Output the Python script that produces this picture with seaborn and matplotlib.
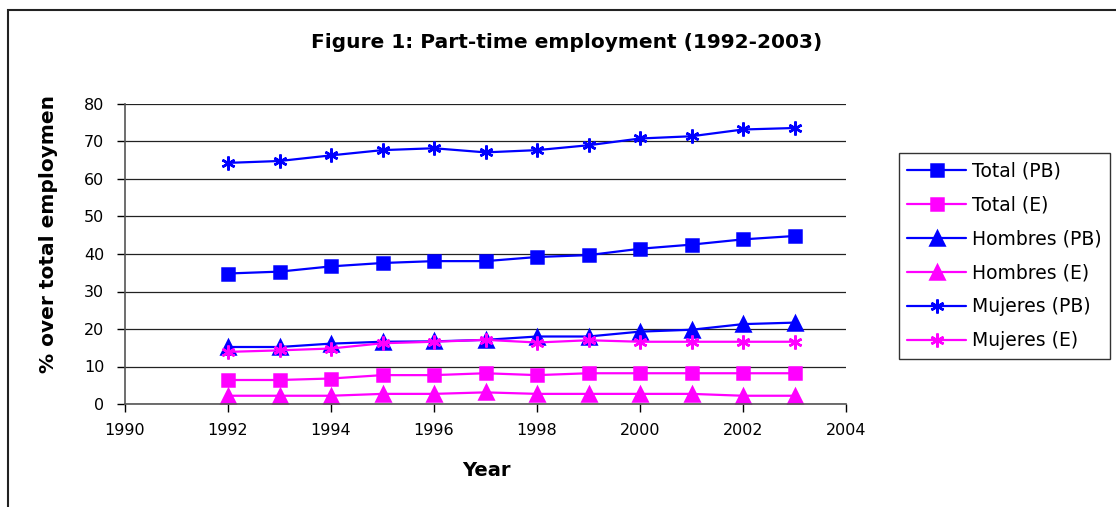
import matplotlib
matplotlib.use("Agg")
import matplotlib.pyplot as plt
import seaborn as sns
from matplotlib.patches import Rectangle

# ----------------------------------------
# DATA
# ----------------------------------------
years = [1992, 1993, 1994, 1995, 1996, 1997, 1998, 1999, 2000, 2001, 2002, 2003]

total_pb = [34.8, 35.3, 36.7, 37.6, 38.1, 38.1, 39.2, 39.7, 41.4, 42.5, 43.9, 44.8]
total_e = [6.4, 6.4, 6.8, 7.7, 7.7, 8.2, 7.7, 8.2, 8.2, 8.2, 8.2, 8.2]
hombres_pb = [15.2, 15.2, 16.1, 16.6, 16.7, 17.1, 18.0, 18.0, 19.3, 19.8, 21.3, 21.7]
hombres_e = [2.2, 2.2, 2.2, 2.7, 2.7, 3.1, 2.7, 2.7, 2.7, 2.7, 2.2, 2.2]
mujeres_pb = [64.3, 64.8, 66.3, 67.7, 68.2, 67.1, 67.7, 69.0, 70.8, 71.4, 73.2, 73.6]
mujeres_e = [13.9, 14.3, 14.8, 16.2, 16.6, 17.1, 16.4, 17.0, 16.6, 16.6, 16.6, 16.6]

series_names = ["Total (PB)", "Total (E)", "Hombres (PB)", "Hombres (E)",
                "Mujeres (PB)", "Mujeres (E)"]
series_values = [total_pb, total_e, hombres_pb, hombres_e, mujeres_pb, mujeres_e]

BLUE = "#0000FF"
MAGENTA = "#FF00FF"
series_colors = [BLUE, MAGENTA, BLUE, MAGENTA, BLUE, MAGENTA]
STAR = (6, 2, 0)
series_markers = ["s", "s", "^", "^", STAR, STAR]
series_msize = [8.5, 8.5, 9.5, 9.5, 10, 10]

# ----------------------------------------
# FIGURE
# ----------------------------------------
sns.set_style("white")
plt.rcParams["font.family"] = ["DejaVu Sans"]
plt.rcParams["text.color"] = "black"

fig = plt.figure(figsize=(11.16, 5.07), dpi=100)
W, H = 1116, 507
ax = fig.add_axes([125 / W, 1 - 404 / H, (846 - 125) / W, (404 - 104) / H])

for name, vals, col, mk, ms in zip(series_names, series_values, series_colors,
                                   series_markers, series_msize):
    sns.lineplot(x=years, y=vals, ax=ax, color=col, marker=mk, markersize=ms,
                 linewidth=1.6, label=name)

for line in ax.lines:
    line.set_markeredgecolor(line.get_color())
    line.set_markerfacecolor(line.get_color())
    line.set_markeredgewidth(1.8)

ax.set_xlim(1990, 2004)
ax.set_ylim(0, 80)
ax.set_xticks(range(1990, 2005, 2))
ax.set_yticks(range(0, 81, 10))
ax.tick_params(axis="both", labelsize=11.5, colors="black", direction="out",
               length=6, width=1, left=True, bottom=True)
ax.tick_params(axis="y", pad=9)
ax.tick_params(axis="x", pad=8)
ax.grid(axis="y", color="#222222", linewidth=0.9)
ax.set_axisbelow(True)
for side in ["top", "right"]:
    ax.spines[side].set_visible(False)
for side in ["left", "bottom"]:
    ax.spines[side].set_color("#555555")
    ax.spines[side].set_linewidth(1.2)

ax.set_xlabel("")
ax.set_ylabel("")

# titles
fig.text(567 / W, 1 - 42 / H, "Figure 1: Part-time employment (1992-2003)",
         ha="center", va="center", fontsize=14.5, fontweight="bold", color="black")
fig.text(486 / W, 1 - 471 / H, "Year", ha="center", va="center",
         fontsize=14, fontweight="bold", color="black")

fig.text(48 / W, 1 - 373 / H, "% over total employment", rotation=90,
         ha="center", va="bottom", fontsize=14.5, fontweight="bold", color="black")
# the chart area cuts the long y label at the top
fig.patches.append(Rectangle((28 / W, 1 - 96 / H), 40 / W, 80 / H,
                             transform=fig.transFigure, facecolor="white",
                             edgecolor="none", zorder=10))

# legend
handles, labels = ax.get_legend_handles_labels()
leg = fig.legend(handles, labels, loc="upper left",
                 bbox_to_anchor=(899 / W, 1 - 153 / H), fontsize=13.5,
                 frameon=True, fancybox=False, handlelength=3.1,
                 handletextpad=0.35, labelspacing=0.8, borderpad=0.45,
                 borderaxespad=0)
leg.get_frame().set_edgecolor("black")
leg.get_frame().set_linewidth(1.0)
for txt in leg.get_texts():
    txt.set_color("black")
if ax.get_legend() is not None:
    ax.get_legend().remove()

# outer chart border
fig.patches.append(Rectangle((8 / W, -0.05), 1.2, 1 - 10 / H + 0.05,
                             transform=fig.transFigure, fill=False,
                             edgecolor="#222222", linewidth=1.5))

fig.savefig("out.png", dpi=100)
